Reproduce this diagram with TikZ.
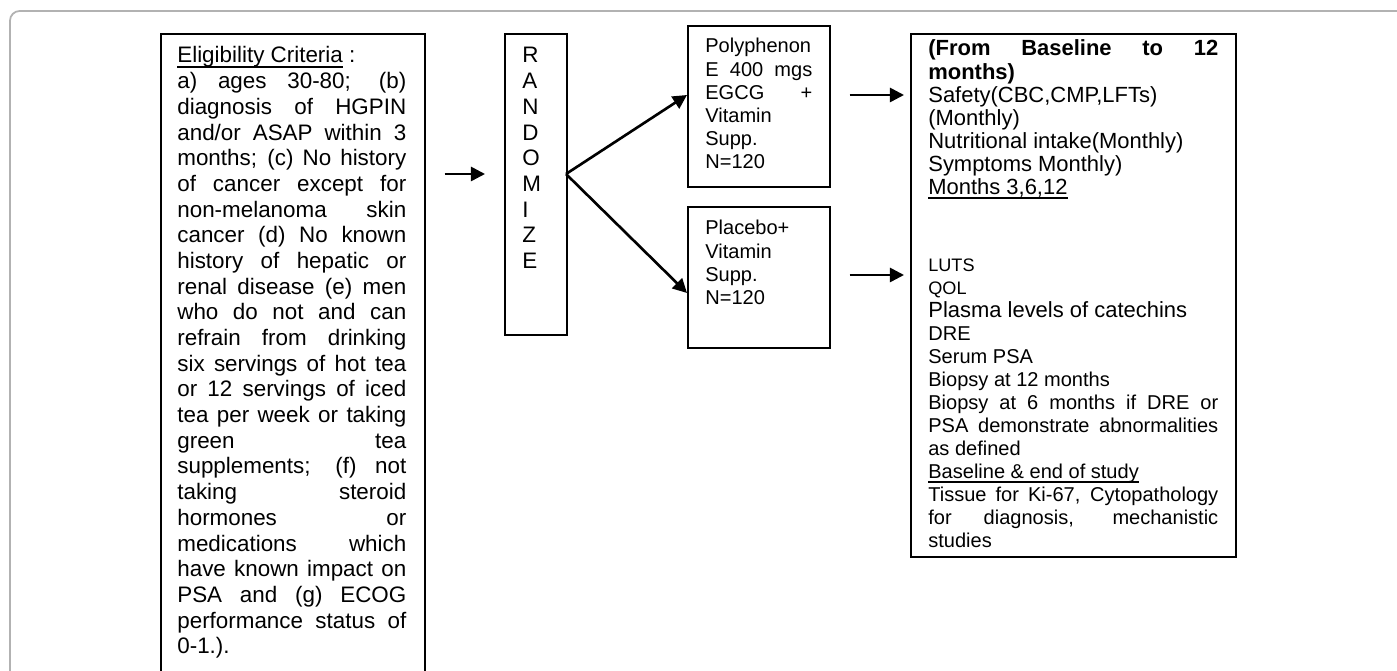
\documentclass[tikz,border=0pt]{standalone}
\usepackage{fontspec}
\setmainfont{Liberation Sans}
\usetikzlibrary{arrows.meta}

\newcommand{\critfont}{\fontsize{12.75pt}{14.62pt}\selectfont}
\newcommand{\armfont}{\fontsize{11.4pt}{13.2pt}\selectfont}
\newcommand{\resbig}{\fontsize{12.5pt}{13.1pt}\selectfont}
\newcommand{\ressmall}{\fontsize{10.3pt}{13.1pt}\selectfont}
\newcommand{\resmid}{\fontsize{11.4pt}{13.1pt}\selectfont}
\newcommand{\undl}[1]{\leavevmode\setbox0=\hbox{#1}\rlap{\rule[-2.6pt]{\wd0}{0.9pt}}\box0\relax}

\tikzset{
  box/.style={draw, line width=1pt, inner sep=0pt, anchor=north west},
  txt/.style={anchor=base west, inner sep=0pt, align=justify,
    execute at begin node={\parindent=0pt\tolerance=10000\hbadness=10000\hyphenpenalty=10000\exhyphenpenalty=10000}},
  arr/.style={line width=1.5pt, -{Triangle[length=8pt,width=8pt]}},
  outerframe/.style={draw=black!30, line width=1pt, rounded corners=5.5pt}
}

\begin{document}
\begin{tikzpicture}[x=0.02cm,y=-0.02cm]
\useasboundingbox (0,0) rectangle (1397,671);
\clip (0,0) rectangle (1397,671);
\draw[outerframe] (10,11) rectangle (1440,720);
\node[box, minimum width=5.28cm, minimum height=13.5cm] (elig) at (160,33) {};
\node[txt, text width=4.58cm, font=\critfont] (eligtxt) at (177,63) {\undl{Eligibility Criteria} :\\
a) ages 30-80; (b)\linebreak
diagnosis of HGPIN\linebreak
and/or ASAP within 3\linebreak
months; (c) No history\linebreak
of cancer except for\linebreak
non-melanoma skin\linebreak
cancer (d) No known\linebreak
history of hepatic or\linebreak
renal disease (e) men\linebreak
who do not and can\linebreak
refrain from drinking\linebreak
six servings of hot tea\linebreak
or 12 servings of iced\linebreak
tea per week or taking\linebreak
green tea\linebreak
supplements; (f) not\linebreak
taking steroid\linebreak
hormones or\linebreak
medications which\linebreak
have known impact on\linebreak
PSA and (g) ECOG\linebreak
performance status of\linebreak
0-1.).};
\node[box, minimum width=1.24cm, minimum height=6.02cm] (rand) at (504,33) {};
\node[txt, text width=0.6cm, align=left, font=\critfont] (randtxt) at (522,63) {R\\A\\N\\D\\O\\M\\I\\Z\\E};
\node[box, minimum width=2.84cm, minimum height=3.22cm] (arm1) at (687,25) {};
\node[txt, text width=2.14cm, font=\armfont] (arm1txt) at (705,53) {Polyphenon\linebreak
E 400 mgs\linebreak
EGCG +\linebreak
Vitamin\\
Supp.\\
N=120};
\node[box, minimum width=2.84cm, minimum height=2.82cm] (arm2) at (687,206) {};
\node[txt, text width=2.14cm, font=\armfont] (arm2txt) at (705,235) {Placebo+\\
Vitamin\\
Supp.\\
N=120};
\node[box, minimum width=6.5cm, minimum height=10.46cm] (res) at (910,33) {};
\node[txt, text width=5.8cm, font=\resbig] (restxt) at (928,56) {\textbf{(From Baseline to 12}\linebreak
\textbf{months)}\\
Safety(CBC,CMP,LFTs)\\
(Monthly)\\
Nutritional intake(Monthly)\\
Symptoms Monthly)\\
\undl{Months 3,6,12}\\[1.08cm]
\ressmall LUTS\\
QOL\\
\resbig Plasma levels of catechins\\
\resmid DRE\\
Serum PSA\\
Biopsy at 12 months\\
Biopsy at 6 months if DRE or\linebreak
PSA demonstrate abnormalities\linebreak
as defined\\
\undl{Baseline \& end of study}\\
Tissue for Ki-67, Cytopathology\linebreak
for diagnosis, mechanistic\linebreak
studies};
\coordinate (split) at (566,174);
\coordinate (lvl1) at (0,95);
\coordinate (lvl2) at (0,275);
\coordinate (lvl3) at (0,293);
\draw[arr, shorten <=0.38cm, shorten >=0.38cm] (elig.east |- split) -- (rand.west |- split);
\draw[arr] (split) -- (arm1.west |- lvl1);
\draw[arr] (split) -- (arm2.west |- lvl3);
\draw[arr, shorten <=0.38cm, shorten >=0.12cm] (arm1.east |- lvl1) -- (res.west |- lvl1);
\draw[arr, shorten <=0.38cm, shorten >=0.12cm] (arm2.east |- lvl2) -- (res.west |- lvl2);
\end{tikzpicture}
\end{document}
